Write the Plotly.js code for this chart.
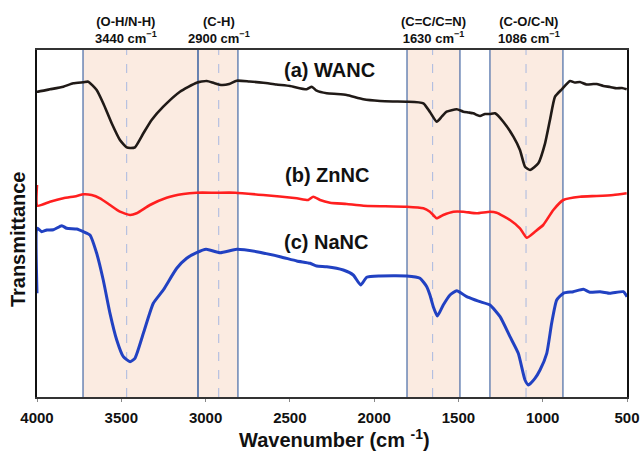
<!DOCTYPE html>
<html>
<head>
<meta charset="utf-8">
<script src="https://cdn.plot.ly/plotly-3.0.1.min.js"></script>
<style>html,body{margin:0;padding:0;background:#fff}#chart{width:643px;height:451px}</style>
</head>
<body>
<div id="chart"></div>
<script>
// (a) WANC
const wancX = [4000,3998,3923,3844,3785,3725,3696,3646,3607,3557,3508,3468,3448,3419,3369,3320,3251,3152,3053,2993,2950,2904,2860,2815,2740,2658,2580,2499,2400,2370,2341,2281,2220,2163,2064,1965,1890,1807,1708,1669,1629,1599,1570,1510,1471,1440,1412,1390,1372,1342,1313,1283,1234,1174,1135,1105,1075,1026,986,957,927,887,838,810,779,740,700,680,640,600,561,530,502];
const wancY = [305.3,305.3,307.7,310.3,313.7,314.7,315.3,307,293.7,273.7,257,249.7,249,249.7,263.7,277,290.3,305.3,314.3,316,314,312,313,316.3,315.5,314.3,312.5,311,307.7,310.3,306.3,303.7,303,302,297.7,296,295.5,295.3,293.7,285,275.3,280.3,285.3,287.7,285.3,284.5,283.7,282,281,283,283,283.7,275.3,260.3,247,230.3,227,233.7,253.7,277,300.3,307.7,316,314.5,315,312.5,313,313,311,310,308.7,309,307.7];
// (b) ZnNC
const zncX = [4000,3998,3923,3844,3764,3725,3676,3626,3567,3508,3448,3409,3330,3231,3132,3053,2940,2825,2658,2459,2391,2361,2321,2262,2163,2064,1807,1708,1669,1629,1590,1530,1471,1392,1313,1273,1194,1135,1095,1046,997,937,878,779,680,581,502];
const zncY = [212,191.3,195.3,198.7,201,202.7,202,198.7,192,185.3,182,183.7,192,199.3,203,204.3,204.3,204.3,202,198.7,197,200.3,197,194.3,193,191.3,190.3,188.7,185.3,178.7,182,185.3,185.3,183.7,185.3,184.3,177,168.7,159.3,165.3,172,187,197,200.3,201,202,203.7];
// (c) NaNC
const nancX = [4000,3998,3972,3942,3903,3853,3824,3764,3725,3686,3646,3607,3567,3527,3488,3448,3419,3369,3310,3251,3171,3112,3053,2997,2914,2815,2697,2558,2459,2380,2341,2281,2183,2124,2080,2044,1965,1807,1728,1688,1669,1649,1625,1590,1550,1510,1451,1400,1372,1313,1253,1194,1145,1105,1085,1046,1016,976,947,917,878,819,759,720,660,601,522,500];
const nancY = [103.7,168.7,165.3,167,167.3,171.3,168.7,168,165.3,162,143.7,117,83.7,57,40.3,35.3,38.7,63.7,93.7,107,128.7,138.7,144.3,147.7,144.3,147.7,145.3,140.3,136,133.7,131,130.3,127,122,112,119.7,121,121,118.7,110.3,102,90.3,81,92,102,106.3,100.3,97,95.3,92,80.3,60.3,43.7,17,12,18.7,27,43.7,73.7,97,103.7,105.3,107.7,104.7,105.3,103.7,105.3,100.3];

const seriesNames = ["(a) WANC","(b) ZnNC","(c) NaNC"];
const labelX = [2547,2540,2547];
const labelY = [327,222,155];

// band regions (wavenumber bounds) and assignment labels
const bandRanges = [[3727,3045],[3045,2808],[1805,1491],[1313,880]];
const peakLines = [3468,2922,1653,1099];
const bandTitles = ["(O-H/N-H)","(C-H)","(C=C/C=N)","(C-O/C-N)"];
const bandValues = ["3440","2900","1630","1086"];
const bandLabelX = [3475,2922,1647,1084];

const xTicks = [4000,3500,3000,2500,2000,1500,1000,500];

const font = "Arial, 'Liberation Sans', sans-serif";

const traces = [
  {x: wancX, y: wancY, color: "#201a17", w: 2.6},
  {x: zncX, y: zncY, color: "#ff1f1f", w: 2.6},
  {x: nancX, y: nancY, color: "#2141c2", w: 3}
].map((s, i) => ({
  type: "scatter", mode: "lines", x: s.x, y: s.y, name: seriesNames[i],
  line: {color: s.color, width: s.w, shape: "spline", smoothing: 0.5},
  cliponaxis: false,
  hoverinfo: "skip"
}));

const shapes = [];
bandRanges.forEach(r => {
  shapes.push({type: "rect", xref: "x", yref: "paper", x0: r[0], x1: r[1], y0: 0, y1: 1,
    fillcolor: "#fbebe1", line: {width: 0}, layer: "below"});
});
bandRanges.forEach(r => {
  r.forEach(v => shapes.push({type: "line", xref: "x", yref: "paper", x0: v, x1: v, y0: 0, y1: 1,
    line: {color: "#5474ab", width: 1.3}, layer: "below"}));
});
peakLines.forEach(v => shapes.push({type: "line", xref: "x", yref: "paper", x0: v, x1: v, y0: 0, y1: 1,
  line: {color: "#a8b8e0", width: 1, dash: "dash"}, layer: "below"}));

const annotations = [];
seriesNames.forEach((n, i) => annotations.push({
  x: labelX[i], y: labelY[i], xref: "x", yref: "y", text: n, showarrow: false,
  xanchor: "left", yanchor: "middle", font: {family: font, size: 20, color: "#111", weight: "bold"}
}));
bandTitles.forEach((t, i) => annotations.push({
  x: bandLabelX[i], y: 1, xref: "x", yref: "paper", yshift: 2,
  text: t + "<br>" + bandValues[i] + " cm<sup>−1</sup>", showarrow: false,
  xanchor: "center", yanchor: "bottom",
  font: {family: font, size: 13, color: "#111", weight: "bold"}
}));
// axis titles
annotations.push({
  x: 0.5, y: 0, xref: "paper", yref: "paper", yshift: -41, xshift: 2,
  text: "Wavenumber (cm <sup>-1</sup>)", showarrow: false, xanchor: "center", yanchor: "middle",
  font: {family: font, size: 20, color: "#111", weight: "bold"}
});
annotations.push({
  x: 0, y: 0.455, xref: "paper", yref: "paper", xshift: -19,
  text: "Transmittance", showarrow: false, textangle: -90, xanchor: "center", yanchor: "middle",
  font: {family: font, size: 20, color: "#111", weight: "bold"}
});

const layout = {
  width: 643, height: 451,
  margin: {l: 37, r: 16, t: 50, b: 54},
  paper_bgcolor: "#fff", plot_bgcolor: "#fff",
  showlegend: false,
  xaxis: {
    range: [4000, 500], autorange: false,
    tickvals: xTicks, ticktext: xTicks.map(String),
    ticks: "outside", ticklen: 3, tickcolor: "#888", tickwidth: 1,
    ticklabelstandoff: 3,
    tickfont: {family: font, size: 15, color: "#111", weight: "bold"},
    showgrid: false, zeroline: false, layer: "below traces",
    showline: true, linecolor: "#333", linewidth: 2, mirror: true
  },
  yaxis: {
    range: [0, 347], autorange: false,
    showticklabels: false, ticks: "", showgrid: false, zeroline: false, layer: "below traces",
    showline: true, linecolor: "#111", linewidth: 2, mirror: true
  },
  shapes: shapes,
  annotations: annotations
};

Plotly.newPlot("chart", traces, layout, {displayModeBar: false, staticPlot: true});
</script>
</body>
</html>
